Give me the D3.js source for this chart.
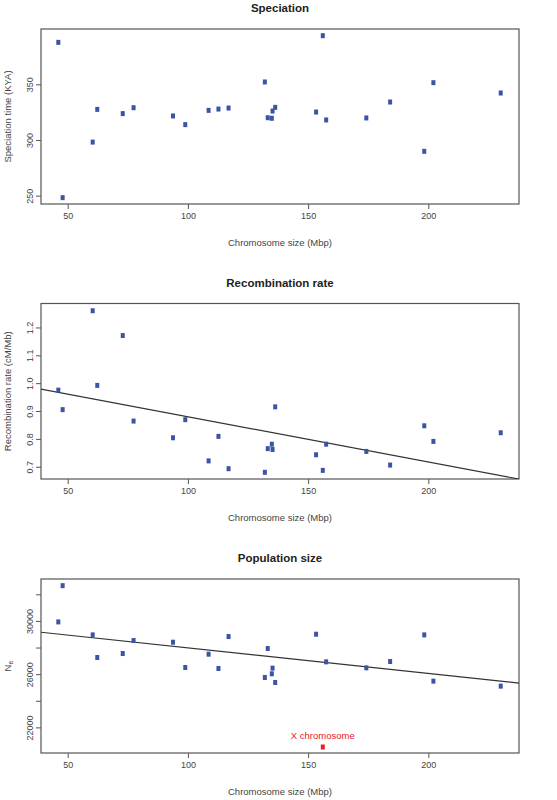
<!DOCTYPE html>
<html>
<head>
<meta charset="utf-8">
<script src="https://cdn.jsdelivr.net/npm/d3@7"></script>
<style>
  body { margin: 0; background: #fff; }
  text { font-family: "Liberation Sans", Arial, sans-serif; }
</style>
</head>
<body>
<div id="chart"></div>
<script>
// Chromosome sizes (Mbp), shared by all three panels.
var chromSize = [46.1, 47.9, 60.4, 62.3, 72.9, 77.4, 93.8, 98.9, 108.6, 112.7, 116.9, 132.0,
  133.2, 134.9, 135.2, 136.3, 153.3, 156.1, 157.5, 174.2, 184.1, 198.3, 202.1, 230.1];
// Index of the X chromosome in the arrays above.
var xChromIndex = 17;

var speciation = [387.7, 248.2, 298.1, 327.5, 323.7, 329.0, 321.6, 313.8, 326.6, 327.8, 328.7, 352.1,
  320.0, 319.5, 326.0, 329.3, 325.1, 393.7, 318.0, 319.8, 334.1, 289.8, 351.5, 342.2];

var recombination = [0.975, 0.905, 1.26, 0.992, 1.171, 0.864, 0.804, 0.869, 0.721, 0.809, 0.693, 0.680,
  0.765, 0.781, 0.762, 0.915, 0.743, 0.687, 0.781, 0.755, 0.706, 0.847, 0.791, 0.822];

var popSize = [29925, 32650, 28950, 27250, 27550, 28525, 28400, 26500, 27500, 26425, 28825, 25750,
  27925, 26025, 26450, 25375, 29000, 20525, 26925, 26475, 26950, 28950, 25475, 25100];

// Regression lines: [intercept, slope].
var recombFit = [1.042, -0.001625];
var popFit = [29898, -19.24];

var xTicks = [50, 100, 150, 200];
var xDomain = [38.9, 237.7];

var svgWidth = 557;
var svgHeight = 800;
var boxLeft = 41, boxRight = 519;

var svg = d3.select("#chart")
  .append("svg")
  .attr("width", svgWidth)
  .attr("height", svgHeight);

var xScale = d3.scaleLinear().domain(xDomain).range([boxLeft, boxRight]);

function panel(opts) {
  var g = svg.append("g");
  var y = d3.scaleLinear().domain(opts.yDomain).range([opts.bottom, opts.top]);

  g.append("text")
    .attr("x", 280).attr("y", opts.top - 17)
    .attr("text-anchor", "middle")
    .attr("font-size", "11.5px").attr("font-weight", "bold").attr("fill", "#222")
    .text(opts.title);

  // Axes
  var xa = g.append("g")
    .attr("transform", `translate(0, ${opts.bottom})`)
    .call(d3.axisBottom(xScale).tickValues(xTicks).tickSize(5).tickPadding(4).tickFormat(d3.format("d")));
  var ya = g.append("g")
    .attr("transform", `translate(${boxLeft}, 0)`)
    .call(d3.axisLeft(y).tickValues(opts.yTicks).tickSize(5)
      .tickFormat(d => opts.yLabels.indexOf(d) >= 0 ? opts.fmt(d) : ""));
  [xa, ya].forEach(a => {
    a.select(".domain").remove();
    a.selectAll("line").attr("stroke", "#555");
    a.selectAll("text").attr("fill", "#444").attr("font-size", "9px");
  });
  // Rotated y tick labels, as in R's default las=0
  ya.selectAll(".tick text")
    .attr("x", 0).attr("y", 0).attr("dy", "0")
    .attr("text-anchor", "middle")
    .attr("transform", "translate(-8,0) rotate(-90)");

  g.append("rect")
    .attr("x", boxLeft).attr("y", opts.top)
    .attr("width", boxRight - boxLeft).attr("height", opts.bottom - opts.top)
    .attr("fill", "none").attr("stroke", "#555").attr("stroke-width", 1.2);

  g.append("text")
    .attr("x", 280).attr("y", opts.bottom + 42)
    .attr("text-anchor", "middle").attr("font-size", "9.5px").attr("fill", "#444")
    .text("Chromosome size (Mbp)");

  var yl = g.append("text")
    .attr("transform", `translate(11, ${(opts.top + opts.bottom) / 2}) rotate(-90)`)
    .attr("text-anchor", "middle").attr("font-size", "9.5px").attr("fill", "#444")
    .text(opts.ylabel);
  if (opts.ylabelSub) {
    yl.append("tspan").attr("font-size", "7px").attr("dy", "2").text(opts.ylabelSub);
  }

  var clip = "clip" + opts.top;
  g.append("clipPath").attr("id", clip).append("rect")
    .attr("x", boxLeft).attr("y", opts.top)
    .attr("width", boxRight - boxLeft).attr("height", opts.bottom - opts.top);

  if (opts.fit) {
    g.append("line")
      .attr("clip-path", `url(#${clip})`)
      .attr("x1", xScale(xDomain[0])).attr("y1", y(opts.fit[0] + opts.fit[1] * xDomain[0]))
      .attr("x2", xScale(xDomain[1])).attr("y2", y(opts.fit[0] + opts.fit[1] * xDomain[1]))
      .attr("stroke", "#333").attr("stroke-width", 1.2);
  }

  g.selectAll(".pt")
    .data(opts.values)
    .enter()
    .append("rect")
    .attr("x", (d, i) => xScale(chromSize[i]) - 2)
    .attr("y", d => y(d) - 2.5)
    .attr("width", 4).attr("height", 5)
    .attr("fill", (d, i) => opts.highlightX && i === xChromIndex ? "#e8202a" : "#3a55a4");

  if (opts.highlightX) {
    g.append("text")
      .attr("x", xScale(chromSize[xChromIndex]))
      .attr("y", y(popSize[xChromIndex]) - 8)
      .attr("text-anchor", "middle").attr("font-size", "9.5px").attr("fill", "#e8202a")
      .text("X chromosome");
  }
}

panel({
  title: "Speciation", top: 29, bottom: 204,
  yDomain: [242.5, 399.7], yTicks: [250, 300, 350], yLabels: [250, 300, 350],
  fmt: d3.format("d"), values: speciation, ylabel: "Speciation time (KYA)"
});

panel({
  title: "Recombination rate", top: 303.5, bottom: 479,
  yDomain: [0.656, 1.286], yTicks: [0.7, 0.8, 0.9, 1.0, 1.1, 1.2], yLabels: [0.7, 0.8, 0.9, 1.0, 1.1, 1.2],
  fmt: d3.format(".1f"), values: recombination, ylabel: "Recombination rate (cM/Mb)", fit: recombFit
});

panel({
  title: "Population size", top: 579, bottom: 753,
  yDomain: [20075, 33150], yTicks: [22000, 24000, 26000, 28000, 30000, 32000], yLabels: [22000, 26000, 30000],
  fmt: d3.format("d"), values: popSize, ylabel: "N", ylabelSub: "e", fit: popFit, highlightX: true
});
</script>
</body>
</html>
